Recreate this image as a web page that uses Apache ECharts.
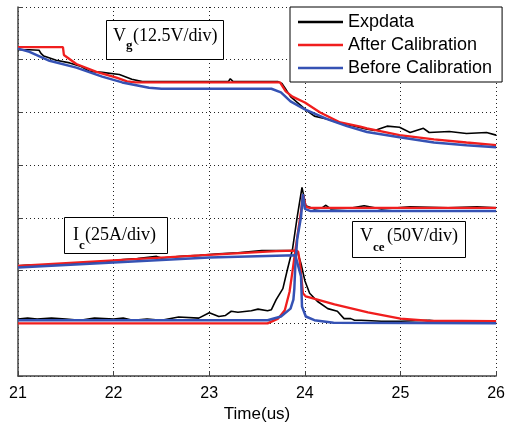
<!DOCTYPE html>
<html>
<head>
<meta charset="utf-8">
<script src="https://cdn.jsdelivr.net/npm/echarts@6/dist/echarts.min.js"></script>
<style>html,body{margin:0;padding:0;background:#fff;}#c{width:508px;height:428px;}</style>
</head>
<body>
<div id="c"></div>
<script>
// x ticks
const xTicks = [21, 22, 23, 24, 25, 26];
const seriesNames = ['Expdata', 'After Calibration', 'Before Calibration'];

// Vg waveform (12.5 V/div), y in divisions
const expVg = [[21.00,6.19],[21.12,6.19],[21.22,6.18],[21.24,6.12],[21.27,6.07],[21.40,5.99],[21.54,5.94],[21.66,5.87],[21.75,5.78],[21.88,5.76],[22.06,5.72],[22.19,5.63],[22.30,5.585],[22.60,5.585],[22.62,5.61],[22.65,5.585],[23.00,5.585],[23.20,5.585],[23.22,5.64],[23.25,5.585],[23.35,5.585],[23.37,5.62],[23.40,5.585],[23.72,5.585],[23.76,5.55],[23.79,5.47],[23.85,5.30],[23.92,5.19],[24.03,5.02],[24.10,4.93],[24.17,4.90],[24.24,4.87],[24.34,4.81],[24.52,4.74],[24.65,4.68],[24.73,4.66],[24.86,4.74],[24.99,4.72],[25.10,4.62],[25.24,4.70],[25.30,4.62],[25.51,4.64],[25.69,4.60],[25.90,4.62],[26.00,4.57]];
const afterVg = [[21.00,6.24],[21.47,6.24],[21.48,6.09],[21.61,5.92],[21.82,5.77],[22.03,5.66],[22.14,5.59],[22.23,5.57],[23.74,5.57],[23.80,5.40],[23.87,5.30],[24.00,5.19],[24.16,5.00],[24.37,4.81],[24.58,4.73],[24.65,4.70],[24.99,4.57],[25.35,4.49],[25.69,4.43],[26.00,4.38]];
const beforeVg = [[21.00,6.21],[21.12,6.15],[21.33,5.98],[21.61,5.85],[21.88,5.68],[22.09,5.57],[22.37,5.47],[22.50,5.45],[23.65,5.45],[23.75,5.38],[23.85,5.21],[24.00,5.06],[24.24,4.87],[24.44,4.74],[24.65,4.63],[24.99,4.53],[25.35,4.43],[25.69,4.38],[26.00,4.34]];

// Ic waveform (25 A/div)
const expIc = [[21.00,2.09],[21.15,2.11],[21.30,2.11],[21.32,2.13],[21.50,2.13],[21.70,2.15],[21.90,2.17],[22.10,2.21],[22.25,2.23],[22.45,2.27],[22.50,2.24],[22.70,2.27],[22.90,2.29],[23.10,2.32],[23.30,2.34],[23.55,2.38],[23.75,2.38],[23.92,2.38],[23.96,2.13],[24.00,1.81],[24.05,1.57],[24.13,1.42],[24.24,1.28],[24.34,1.23],[24.41,1.09],[24.48,1.09],[24.52,1.06],[24.59,1.06],[24.80,1.04],[25.00,1.04],[25.30,1.06],[25.50,1.02],[26.00,1.02]];
const afterIc = [[21.00,2.09],[23.00,2.30],[23.70,2.37],[23.90,2.38],[23.93,2.36],[23.95,2.13],[23.98,1.57],[24.01,1.51],[24.31,1.36],[24.66,1.21],[25.00,1.09],[25.28,1.05],[26.00,1.04]];
const beforeIc = [[21.00,2.06],[23.00,2.25],[23.90,2.29],[23.92,2.32],[23.96,1.89],[23.97,1.32],[24.01,1.13],[24.10,1.06],[24.30,1.01],[26.00,1.00]];

// Vce waveform (50 V/div)
const expVce = [[21.00,1.08],[21.10,1.10],[21.20,1.08],[21.35,1.10],[21.50,1.08],[21.65,1.06],[21.80,1.10],[22.00,1.08],[22.10,1.10],[22.20,1.06],[22.35,1.08],[22.50,1.06],[22.68,1.12],[22.89,1.10],[23.00,1.20],[23.10,1.13],[23.17,1.15],[23.23,1.23],[23.30,1.21],[23.44,1.24],[23.51,1.27],[23.61,1.24],[23.65,1.26],[23.70,1.45],[23.77,1.66],[23.82,2.04],[23.87,2.40],[23.92,3.02],[23.97,3.58],[24.01,3.23],[24.10,3.17],[24.18,3.19],[24.22,3.24],[24.27,3.17],[24.50,3.19],[24.62,3.23],[24.80,3.17],[25.10,3.21],[25.50,3.19],[25.80,3.21],[26.00,3.19]];
const afterVce = [[21.00,1.00],[23.61,1.00],[23.72,1.09],[23.79,1.25],[23.84,1.60],[23.87,1.98],[23.90,2.38],[23.96,3.13],[23.98,3.45],[24.01,3.21],[24.05,3.19],[26.00,3.19]];
const beforeVce = [[21.00,1.06],[23.61,1.06],[23.75,1.13],[23.85,1.28],[23.88,1.45],[23.89,1.66],[23.90,2.09],[23.92,2.60],[23.96,3.02],[23.98,3.45],[24.00,3.17],[24.06,3.13],[26.00,3.13]];

const colors = { 'Expdata': '#000000', 'After Calibration': '#f01e1e', 'Before Calibration': '#3552b4' };
const widths = { 'Expdata': 1.6, 'After Calibration': 2.3, 'Before Calibration': 2.5 };

function mk(name, data) {
  return { name: name, type: 'line', data: data, symbol: 'none', showSymbol: false,
    lineStyle: { color: colors[name], width: widths[name] }, itemStyle: { color: colors[name] },
    animation: false };
}

const series = [
  mk('Expdata', expVg), mk('Expdata', expIc), mk('Expdata', expVce),
  mk('After Calibration', afterVg), mk('After Calibration', afterIc), mk('After Calibration', afterVce),
  mk('Before Calibration', beforeVg), mk('Before Calibration', beforeIc), mk('Before Calibration', beforeVce)
];

const serif = '"Liberation Serif", "Times New Roman", serif';
function label(parts) {
  return parts.map(p => ({ type: 'text', x: p[0], y: p[1], z: 100,
    style: { text: p[2], font: p[3], fill: '#000', textVerticalAlign: 'middle', verticalAlign: 'middle' } }));
}
const mainFont = 'normal 18px ' + serif;
const subFont = 'bold 13px ' + serif;

const graphic = [
  { type: 'rect', shape: { x: 106.5, y: 20.5, width: 117, height: 39 }, style: { fill: '#fff', stroke: '#000', lineWidth: 1 }, z: 99 },
  ...label([[113, 36, 'V', mainFont], [126, 46, 'g', subFont], [133, 36, '(12.5V/div)', mainFont]]),
  { type: 'rect', shape: { x: 64.5, y: 217.5, width: 103, height: 36 }, style: { fill: '#fff', stroke: '#000', lineWidth: 1 }, z: 99 },
  ...label([[73, 235, 'I', mainFont], [79, 246, 'c', subFont], [85, 235, '(25A/div)', mainFont]]),
  { type: 'rect', shape: { x: 352.5, y: 221.5, width: 113, height: 36 }, style: { fill: '#fff', stroke: '#000', lineWidth: 1 }, z: 99 },
  ...label([[360, 236, 'V', mainFont], [373, 248, 'ce', subFont], [387, 236, '(50V/div)', mainFont]])
];

const legendData = seriesNames.map(n => ({ name: n, icon: 'rect', itemStyle: { color: colors[n] } }));

const chart = echarts.init(document.getElementById('c'), null, { renderer: 'canvas' });
chart.setOption({
  animation: false,
  backgroundColor: '#fff',
  grid: { left: 18, right: 8, top: 7, bottom: 50, containLabel: false },
  xAxis: {
    type: 'value', min: xTicks[0], max: xTicks[xTicks.length - 1], interval: 1,
    name: 'Time(us)', nameLocation: 'middle', nameGap: 28,
    nameTextStyle: { fontFamily: '"Liberation Sans", Arial, sans-serif', fontSize: 17, color: '#000' },
    axisLine: { show: true, onZero: false, lineStyle: { color: '#444', width: 1.5 } },
    axisTick: { show: true, inside: true, length: 5, lineStyle: { color: '#444' } },
    axisLabel: { fontFamily: '"Liberation Sans", Arial, sans-serif', fontSize: 16, color: '#000', margin: 9 },
    splitLine: { show: true, lineStyle: { color: '#222', type: [1, 3], width: 1 } }
  },
  yAxis: {
    type: 'value', min: 0, max: 7, interval: 1,
    axisLine: { show: true, onZero: false, lineStyle: { color: '#444', width: 1.5 } },
    axisTick: { show: true, inside: true, length: 5, lineStyle: { color: '#444' } },
    axisLabel: { show: false },
    splitLine: { show: true, lineStyle: { color: '#222', type: [1, 3], width: 1 } }
  },
  legend: {
    data: legendData, orient: 'vertical', left: 290, top: 7,
    padding: [6, 10, 5, 8], itemGap: 5, itemWidth: 45, itemHeight: 2.5, itemTextGap: 4,
    backgroundColor: '#fff', borderColor: '#000', borderWidth: 1, borderRadius: 0,
    textStyle: { fontFamily: '"Liberation Sans", Arial, sans-serif', fontSize: 18, color: '#000', lineHeight: 18 },
    z: 50
  },
  graphic: graphic,
  series: series
});
</script>
</body>
</html>
